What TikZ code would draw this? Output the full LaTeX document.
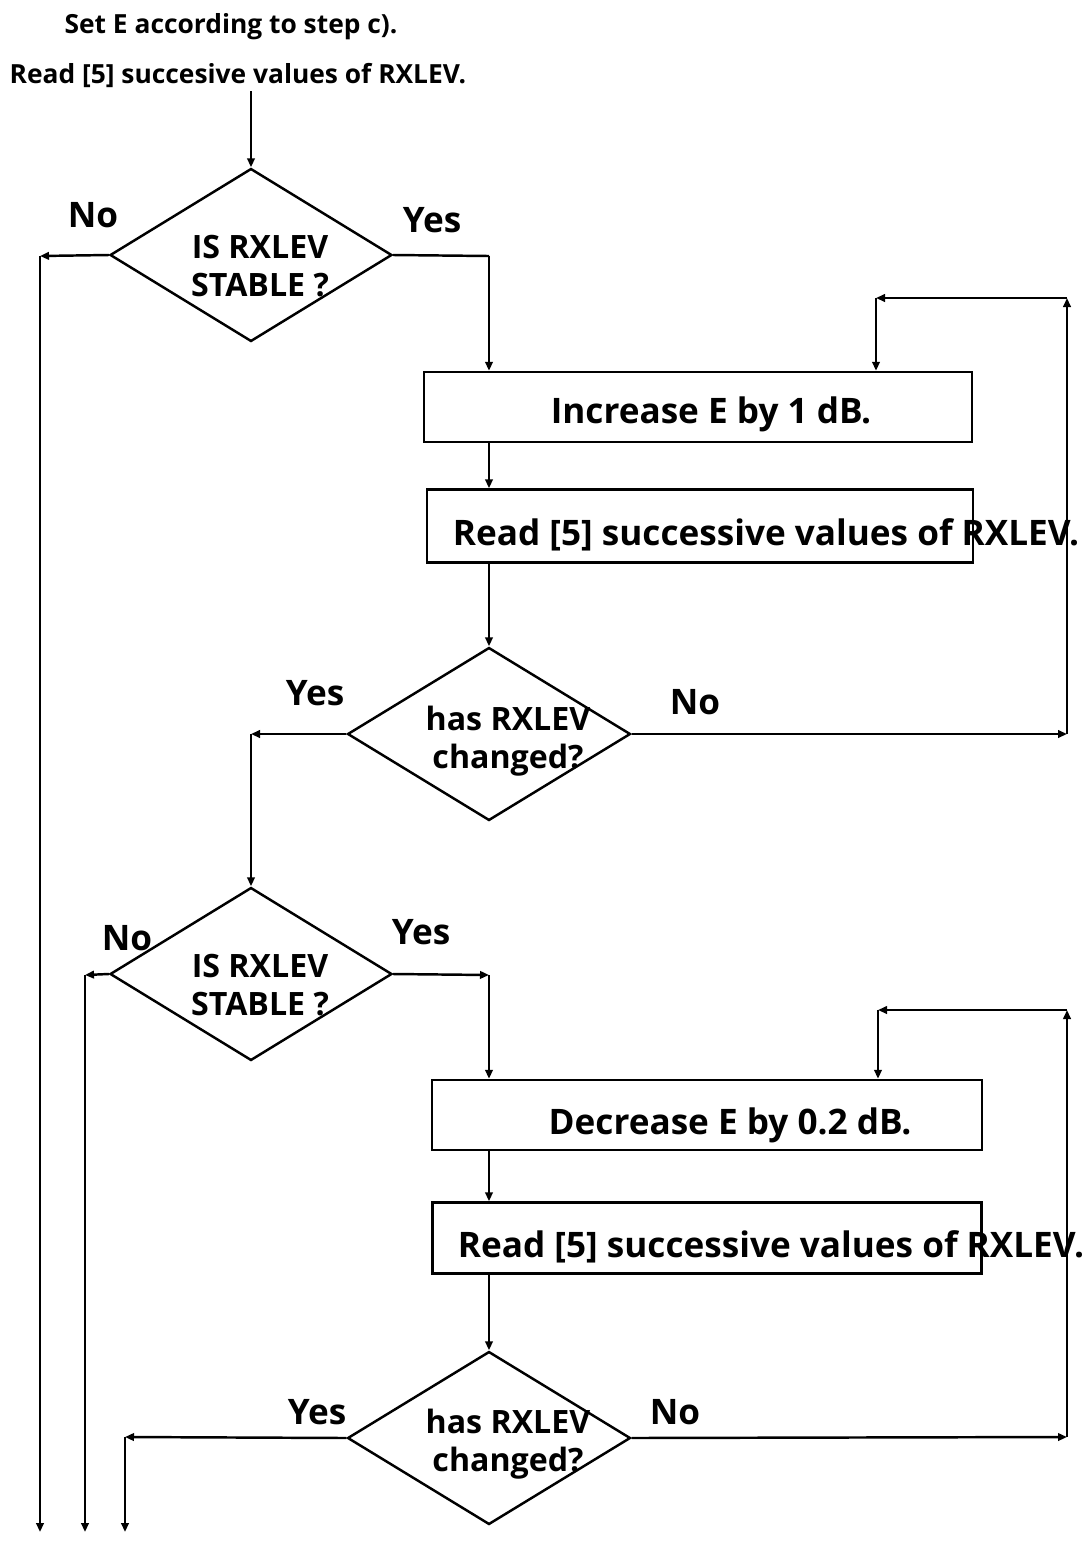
\documentclass[tikz,border=0pt]{standalone}
\usepackage{fontspec}
\setmainfont{Open Sans}
\usepackage{tikz}
\usetikzlibrary{arrows.meta, shapes.geometric}
\tikzset{
  flow/.style={-{Triangle[length=1.8mm, width=1.5mm]}, line width=1.4pt},
  line/.style={line width=1.4pt},
  pbox/.style={draw, line width=1.4pt, minimum width=#1, minimum height=1.4cm, inner sep=0pt},
  qbox/.style={draw, diamond, line width=1.4pt, minimum width=5.64cm, minimum height=3.46cm, inner sep=0pt},
  ttext/.style={font=\bfseries\fontsize{15}{18}\selectfont, inner sep=2pt},
  btext/.style={font=\bfseries\fontsize{20}{24}\selectfont, inner sep=0pt},
  qtext/.style={font=\bfseries\fontsize{18.3}{22}\selectfont, align=center, inner sep=0pt},
  ans/.style={font=\bfseries\fontsize{20}{22}\selectfont, inner sep=0pt},
}

\begin{document}
\begin{tikzpicture}[x=0.02cm, y=-0.02cm]
    \useasboundingbox (0,0) rectangle (1089,1542);
    % start
    \node[ttext] (t1) at (231,27) {Set E according to step c).};
    \node[ttext] (t2) at (238,75) {Read [5] succesive values of RXLEV.};

    % first stability check
    \node[qbox] (q1) at (251,255) {};
    \node[qtext] (q1t) at (260,266) {IS RXLEV\\STABLE ?};
    \node[ans] (q1n) at (93,215) {No};
    \node[ans] (q1y) at (432,220) {Yes};

    % increase loop
    \node[pbox=10.96cm] (b1) at (698,407) {};
    \node[btext] (b1t) at (711,414) {Increase E by 1 dB.};
    \node[pbox=10.92cm, minimum height=1.46cm] (b2) at (700,526) {};
    \node[btext] (b2t) at (766,535) {Read [5] successive values of RXLEV.};
    \node[qbox, minimum width=5.66cm] (q2) at (489,734) {};
    \node[qtext] (q2t) at (508,741) {has RXLEV\\changed?};
    \node[ans] (q2y) at (315,693) {Yes};
    \node[ans] (q2n) at (695,702) {No};

    % second stability check
    \node[qbox] (q3) at (251,974) {};
    \node[qtext] (q3t) at (260,985) {IS RXLEV\\STABLE ?};
    \node[ans] (q3n) at (127,938) {No};
    \node[ans] (q3y) at (421,932) {Yes};

    % decrease loop
    \node[pbox=11cm] (b3) at (707,1115) {};
    \node[btext] (b3t) at (730,1125) {Decrease E by 0.2 dB.};
    \node[pbox=10.98cm, minimum height=1.42cm] (b4) at (707,1238) {};
    \node[btext] (b4t) at (771,1247) {Read [5] successive values of RXLEV.};
    \node[qbox, minimum width=5.66cm] (q4) at (489,1438) {};
    \node[qtext] (q4t) at (508,1444) {has RXLEV\\changed?};
    \node[ans] (q4y) at (317,1412) {Yes};
    \node[ans] (q4n) at (675,1412) {No};

    % corners and exits
    \coordinate (n1) at (40,256);   \coordinate (e1) at (40,1532);
    \coordinate (y1) at (489,256);
    \coordinate (y2) at (251,734);
    \coordinate (n2a) at (1067,734); \coordinate (n2b) at (1067,298); \coordinate (n2c) at (876,298);
    \coordinate (n3) at (85,975);   \coordinate (e2) at (85,1532);
    \coordinate (y3) at (489,975);
    \coordinate (y4) at (125,1437); \coordinate (e3) at (125,1532);
    \coordinate (n4a) at (1067,1437); \coordinate (n4b) at (1067,1010); \coordinate (n4c) at (878,1010);

    \draw[flow] (t2.south -| q1.north) -- (q1.north);
    \draw[flow] (q1.west) -- (n1); \draw[flow] (n1) -- (e1);
    \draw[line] (q1.east) -- (y1); \draw[flow] (y1) -- (y1 |- b1.north);
    \draw[flow] (b1.south -| q2.north) -- (b2.north -| q2.north);
    \draw[flow] (b2.south -| q2.north) -- (q2.north);
    \draw[flow] (q2.west) -- (y2); \draw[flow] (y2) -- (q3.north);
    \draw[flow] (q2.east) -- (n2a); \draw[flow] (n2a) -- (n2b); \draw[flow] (n2b) -- (n2c);
    \draw[flow] (n2c) -- (n2c |- b1.north);
    \draw[flow] (q3.west) -- (n3); \draw[flow] (n3) -- (e2);
    \draw[flow] (q3.east) -- (y3); \draw[flow] (y3) -- (y3 |- b3.north);
    \draw[flow] (b3.south -| q4.north) -- (b4.north -| q4.north);
    \draw[flow] (b4.south -| q4.north) -- (q4.north);
    \draw[flow] (q4.west) -- (y4); \draw[flow] (y4) -- (e3);
    \draw[flow] (q4.east) -- (n4a); \draw[flow] (n4a) -- (n4b); \draw[flow] (n4b) -- (n4c);
    \draw[flow] (n4c) -- (n4c |- b3.north);
\end{tikzpicture}
\end{document}
